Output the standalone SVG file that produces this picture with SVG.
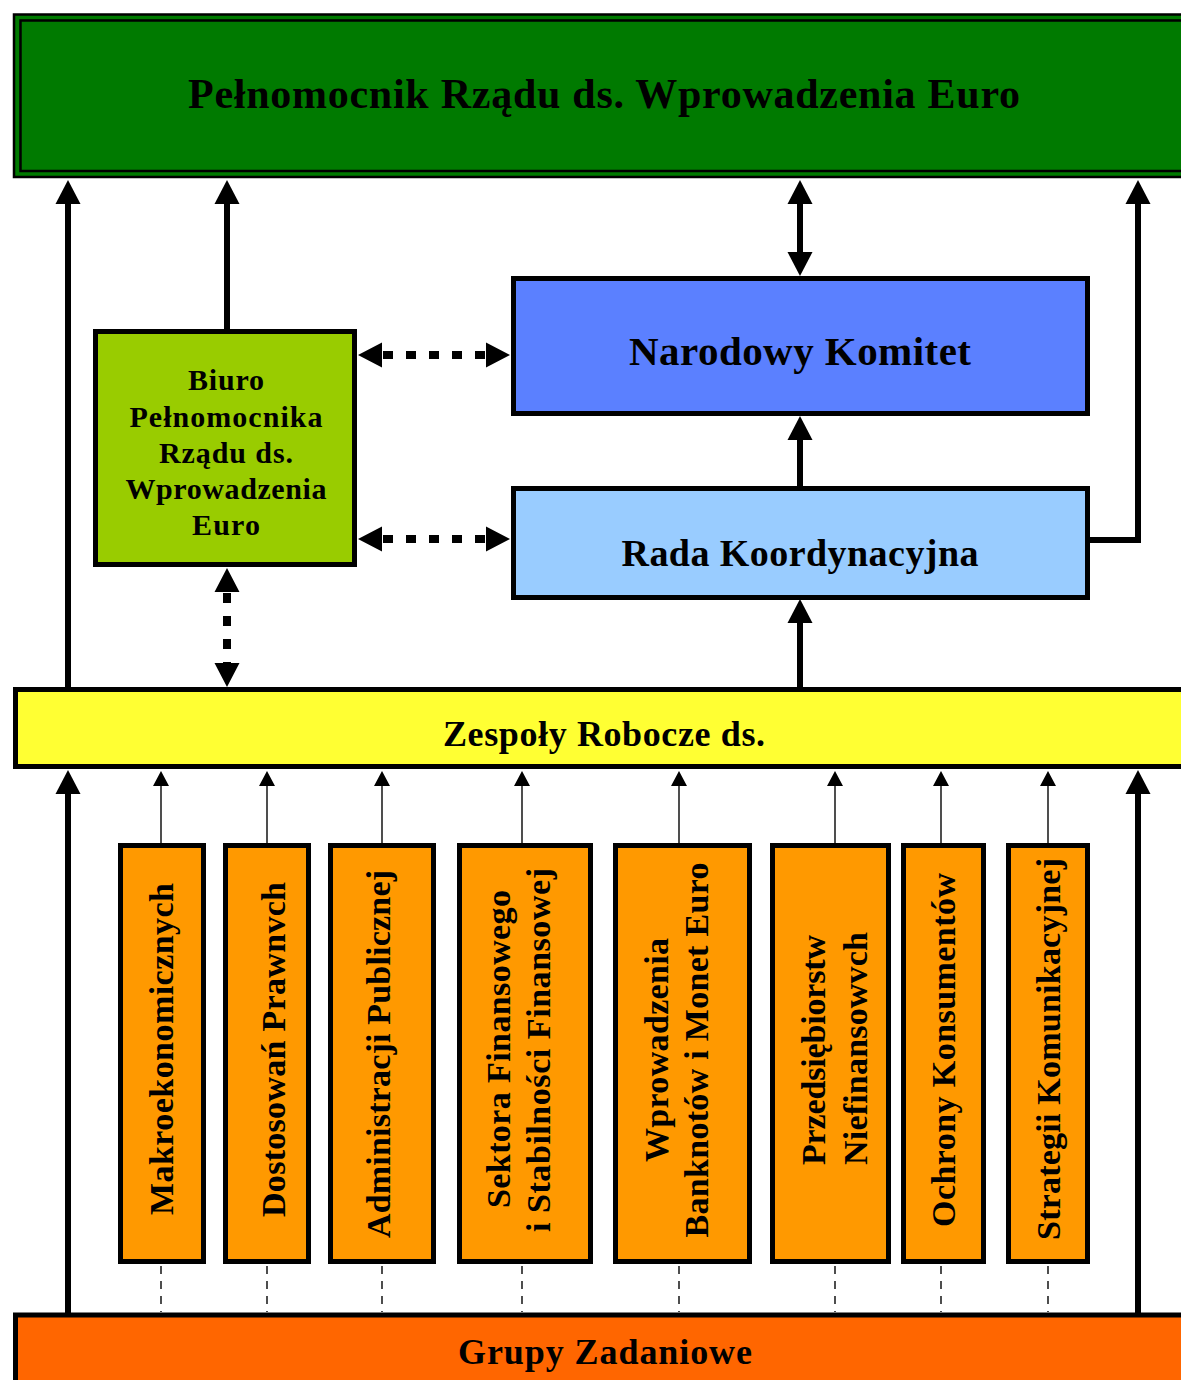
<svg xmlns="http://www.w3.org/2000/svg" width="1181" height="1380" viewBox="0 0 1181 1380">
<style>
.t{font-family:"Liberation Serif","Times New Roman",serif;font-weight:bold;fill:#000;text-anchor:middle}
.box{stroke:#000;stroke-width:5}
.orange{fill:#ff9900;stroke:#000;stroke-width:5}
.thick{stroke:#000;stroke-width:6;fill:none}
.dot{stroke:#000;stroke-width:8;stroke-dasharray:10 13;fill:none}
.thin{stroke:#222;stroke-width:1.6;fill:none}
.dash{stroke:#222;stroke-width:1.6;stroke-dasharray:8 7;fill:none}
</style>
<defs>
<marker id="ah" markerUnits="userSpaceOnUse" markerWidth="26" markerHeight="26" viewBox="0 -13 26 26" refX="2" refY="0" orient="auto-start-reverse">
<path d="M0,-12.5 L24,0 L0,12.5 z" fill="#000"/>
</marker>
<marker id="ahs" markerUnits="userSpaceOnUse" markerWidth="18" markerHeight="18" viewBox="0 -9 18 18" refX="1" refY="0" orient="auto">
<path d="M0,-8 L15,0 L0,8 z" fill="#000"/>
</marker>
</defs>
<rect width="1181" height="1380" fill="#fff"/>

<g id="pelnomocnik">
<rect x="14" y="14.5" width="1200" height="162.5" fill="#007a00" stroke="#000" stroke-width="2.5"/>
<rect x="20.5" y="20.5" width="1200" height="150.5" fill="none" stroke="#000" stroke-width="2.5"/>
<text class="t" x="604" y="108" font-size="42" textLength="832" lengthAdjust="spacing">Pełnomocnik Rządu ds. Wprowadzenia Euro</text>
</g>

<g id="biuro">
<rect class="box" x="95.5" y="331.5" width="259" height="233" fill="#99cc00"/>
<text class="t" font-size="30" x="226" y="390" textLength="76" lengthAdjust="spacing">Biuro</text>
<text class="t" font-size="30" x="226" y="427" textLength="193" lengthAdjust="spacing">Pełnomocnika</text>
<text class="t" font-size="30" x="226" y="463" textLength="134" lengthAdjust="spacing">Rządu ds.</text>
<text class="t" font-size="30" x="226" y="499" textLength="201" lengthAdjust="spacing">Wprowadzenia</text>
<text class="t" font-size="30" x="226" y="535" textLength="68" lengthAdjust="spacing">Euro</text>
</g>

<g id="narodowy-komitet">
<rect class="box" x="513.5" y="278.5" width="574" height="135" fill="#5b80ff"/>
<text class="t" x="800" y="365" font-size="41" textLength="342" lengthAdjust="spacing">Narodowy Komitet</text>
</g>

<g id="rada-koordynacyjna">
<rect class="box" x="513.5" y="488.5" width="574" height="109" fill="#99ccff"/>
<text class="t" x="800" y="566" font-size="38" textLength="357" lengthAdjust="spacing">Rada Koordynacyjna</text>
</g>

<g id="zespoly">
<rect class="box" x="15.5" y="689.5" width="1200" height="77" fill="#ffff33"/>
<text class="t" x="604" y="746" font-size="36" textLength="322" lengthAdjust="spacing">Zespoły Robocze ds.</text>
</g>

<g id="grupy">
<rect class="box" x="15.5" y="1315" width="1200" height="100" fill="#ff6600"/>
<text class="t" x="605" y="1364" font-size="36" textLength="294" lengthAdjust="spacing">Grupy Zadaniowe</text>
</g>

<g id="g1"><rect class="orange" x="120.5" y="845.5" width="83" height="416"/>
<text class="t" font-size="34" transform="translate(173,1049) rotate(-90)" textLength="332" lengthAdjust="spacing">Makroekonomicznych</text></g>
<g id="g2"><rect class="orange" x="225.5" y="845.5" width="83" height="416"/>
<text class="t" font-size="34" transform="translate(285,1049.5) rotate(-90)" textLength="335" lengthAdjust="spacing">Dostosowań Prawnvch</text></g>
<g id="g3"><rect class="orange" x="330.5" y="845.5" width="103" height="416"/>
<text class="t" font-size="34" transform="translate(390,1054) rotate(-90)" textLength="368" lengthAdjust="spacing">Administracji Publicznej</text></g>
<g id="g4"><rect class="orange" x="459.5" y="845.5" width="131" height="416"/>
<text class="t" font-size="34" transform="translate(510,1049) rotate(-90)" textLength="318" lengthAdjust="spacing">Sektora Finansowego</text>
<text class="t" font-size="34" transform="translate(550,1050) rotate(-90)" textLength="364" lengthAdjust="spacing">i Stabilności  Finansowej</text></g>
<g id="g5"><rect class="orange" x="615.5" y="845.5" width="134" height="416"/>
<text class="t" font-size="34" transform="translate(668,1050) rotate(-90)" textLength="224" lengthAdjust="spacing">Wprowadzenia</text>
<text class="t" font-size="34" transform="translate(708,1050) rotate(-90)" textLength="375" lengthAdjust="spacing">Banknotów i Monet Euro</text></g>
<g id="g6"><rect class="orange" x="772.5" y="845.5" width="116" height="416"/>
<text class="t" font-size="34" transform="translate(825,1050) rotate(-90)" textLength="230" lengthAdjust="spacing">Przedsiębiorstw</text>
<text class="t" font-size="34" transform="translate(867,1048.5) rotate(-90)" textLength="233" lengthAdjust="spacing">Niefinansowvch</text></g>
<g id="g7"><rect class="orange" x="903.5" y="845.5" width="80" height="416"/>
<text class="t" font-size="34" transform="translate(955,1050) rotate(-90)" textLength="354" lengthAdjust="spacing">Ochrony  Konsumentów</text></g>
<g id="g8"><rect class="orange" x="1008.5" y="845.5" width="79" height="416"/>
<text class="t" font-size="34" transform="translate(1060,1049) rotate(-90)" textLength="382" lengthAdjust="spacing">Strategii Komunikacyjnej</text></g>

<g id="connectors">
<line class="thick" x1="68" y1="689" x2="68" y2="202" marker-end="url(#ah)"/>
<line class="thick" x1="227" y1="329" x2="227" y2="202" marker-end="url(#ah)"/>
<line class="thick" x1="800" y1="202" x2="800" y2="254" marker-start="url(#ah)" marker-end="url(#ah)"/>
<polyline class="thick" points="1090,540 1138,540 1138,202" marker-end="url(#ah)"/>
<line class="thick" x1="800" y1="486" x2="800" y2="438" marker-end="url(#ah)"/>
<line class="thick" x1="800" y1="687" x2="800" y2="621" marker-end="url(#ah)"/>
<line class="thick" x1="68" y1="1313" x2="68" y2="792" marker-end="url(#ah)"/>
<line class="thick" x1="1138" y1="1313" x2="1138" y2="792" marker-end="url(#ah)"/>
<line class="dot" x1="383" y1="355" x2="485" y2="355"/>
<path d="M382,342.5 L358,355 L382,367.5 z M486,342.5 L510,355 L486,367.5 z" fill="#000"/>
<line class="dot" x1="383" y1="539" x2="485" y2="539"/>
<path d="M382,526.5 L358,539 L382,551.5 z M486,526.5 L510,539 L486,551.5 z" fill="#000"/>
<line class="dot" x1="227" y1="593" x2="227" y2="663"/>
<path d="M214.5,592 L227,568 L239.5,592 z M214.5,663 L227,687 L239.5,663 z" fill="#000"/>
<g>
<line class="thin" x1="161" y1="843" x2="161" y2="785" marker-end="url(#ahs)"/>
<line class="thin" x1="267" y1="843" x2="267" y2="785" marker-end="url(#ahs)"/>
<line class="thin" x1="382" y1="843" x2="382" y2="785" marker-end="url(#ahs)"/>
<line class="thin" x1="522" y1="843" x2="522" y2="785" marker-end="url(#ahs)"/>
<line class="thin" x1="679" y1="843" x2="679" y2="785" marker-end="url(#ahs)"/>
<line class="thin" x1="835" y1="843" x2="835" y2="785" marker-end="url(#ahs)"/>
<line class="thin" x1="941" y1="843" x2="941" y2="785" marker-end="url(#ahs)"/>
<line class="thin" x1="1048" y1="843" x2="1048" y2="785" marker-end="url(#ahs)"/>
</g>
<g>
<line class="dash" x1="161" y1="1266" x2="161" y2="1312"/>
<line class="dash" x1="267" y1="1266" x2="267" y2="1312"/>
<line class="dash" x1="382" y1="1266" x2="382" y2="1312"/>
<line class="dash" x1="522" y1="1266" x2="522" y2="1312"/>
<line class="dash" x1="679" y1="1266" x2="679" y2="1312"/>
<line class="dash" x1="835" y1="1266" x2="835" y2="1312"/>
<line class="dash" x1="941" y1="1266" x2="941" y2="1312"/>
<line class="dash" x1="1048" y1="1266" x2="1048" y2="1312"/>
</g>
</g>
</svg>
